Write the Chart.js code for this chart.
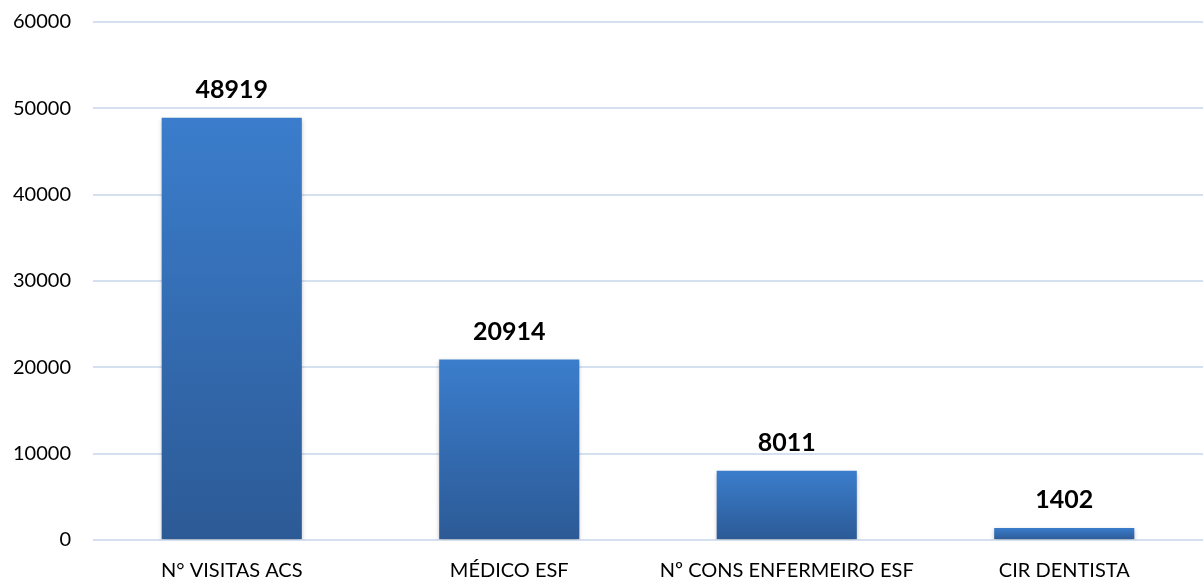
<!DOCTYPE html>
<html>
<head>
<meta charset="utf-8">
<script src="https://cdn.jsdelivr.net/npm/chart.js@4"></script>
<style>
  html, body { margin: 0; padding: 0; background: #fff; }
  #wrap { width: 1203px; height: 581px; }
</style>
</head>
<body>
<div id="wrap"><canvas id="chart"></canvas></div>
<script>
const categories = ['N° VISITAS ACS', 'MÉDICO ESF', 'Nº CONS ENFERMEIRO ESF', 'CIR DENTISTA'];
const values = [48919, 20914, 8011, 1402];
const yTicks = [0, 10000, 20000, 30000, 40000, 50000, 60000];

const FONT = 'Lato, "Noto Sans", sans-serif';

// gradient per bar, lighter at top, darker at the base
function barFill(ctx) {
  const chart = ctx.chart;
  if (!chart.chartArea) return '#3470B8';
  const y = chart.scales.y;
  const top = y.getPixelForValue(values[ctx.dataIndex]);
  const bottom = y.getPixelForValue(0);
  const g = chart.ctx.createLinearGradient(0, top, 0, bottom);
  g.addColorStop(0, '#3B7DCC');
  g.addColorStop(1, '#2C5A96');
  return g;
}

// value labels above the bars
const valueLabels = {
  id: 'valueLabels',
  afterDatasetsDraw(chart) {
    const c = chart.ctx;
    const meta = chart.getDatasetMeta(0);
    c.save();
    c.font = 'bold 25px ' + FONT;
    c.fillStyle = '#000';
    c.textAlign = 'center';
    c.textBaseline = 'middle';
    meta.data.forEach((bar, i) => {
      c.fillText(values[i], bar.x, bar.y - 28);
    });
    c.restore();
  }
};

// soft shadow under bars
const barShadow = {
  id: 'barShadow',
  beforeDatasetsDraw(chart) {
    chart.ctx.save();
    chart.ctx.shadowColor = 'rgba(0,0,0,0.25)';
    chart.ctx.shadowBlur = 4;
    chart.ctx.shadowOffsetY = 2;
  },
  afterDatasetsDraw(chart) {
    chart.ctx.restore();
  }
};

new Chart(document.getElementById('chart'), {
  type: 'bar',
  data: {
    labels: categories,
    datasets: [{
      data: values,
      backgroundColor: barFill,
      borderWidth: 0,
      barPercentage: 0.505,
      categoryPercentage: 1
    }]
  },
  options: {
    responsive: true,
    maintainAspectRatio: false,
    animation: false,
    layout: { padding: { top: 22, right: 0, bottom: 0, left: 0 } },
    plugins: {
      legend: { display: false },
      tooltip: { enabled: false }
    },
    scales: {
      x: {
        afterFit: axis => { axis.height = 41; },
        grid: { display: false },
        border: { display: false },
        ticks: { color: '#000', font: { family: FONT, size: 20 }, padding: 11 }
      },
      y: {
        min: 0,
        max: 60000,
        afterFit: axis => {
          axis.width = 93;
          axis.paddingTop = 0;
          axis.paddingBottom = 0;
        },
        afterBuildTicks: axis => { axis.ticks = yTicks.map(v => ({ value: v })); },
        grid: { color: '#D5E1F1', lineWidth: 2, drawTicks: false },
        border: { display: false },
        ticks: { color: '#000', font: { family: FONT, size: 20 }, padding: 22, callback: v => String(v) }
      }
    }
  },
  plugins: [barShadow, valueLabels]
});
</script>
</body>
</html>
